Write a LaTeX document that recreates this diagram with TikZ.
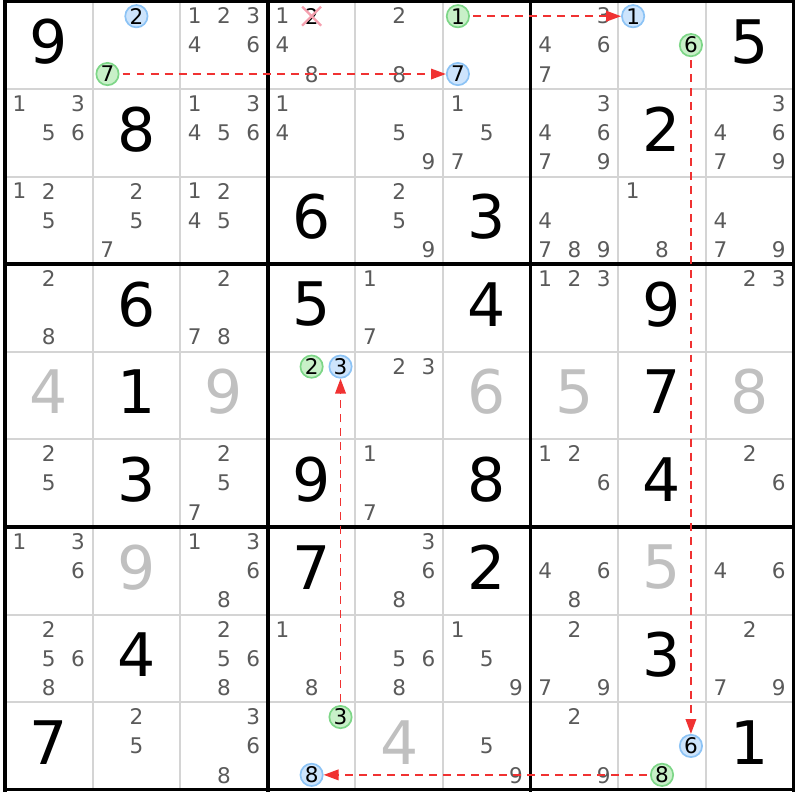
\documentclass[tikz,border=0pt]{standalone}
\usepackage{fontspec}
\setmainfont{DejaVu Sans}
\usetikzlibrary{arrows.meta,shapes.misc}
\definecolor{candgray}{RGB}{90,90,90}
\definecolor{solvedgray}{RGB}{192,192,192}
\definecolor{thingray}{RGB}{212,212,212}
\definecolor{onfill}{RGB}{200,240,200}
\definecolor{ondraw}{RGB}{125,214,135}
\definecolor{offfill}{RGB}{205,228,252}
\definecolor{offdraw}{RGB}{140,195,245}
\definecolor{linkred}{RGB}{240,50,50}
\definecolor{strikepink}{RGB}{245,160,175}
\tikzset{
    given/.style = {
        font      = \fontsize{19.5}{19.5}\selectfont,
        text      = black,
        inner sep = 0pt,
    },
    solved/.style = {
        given,
        text = solvedgray,
    },
    cand/.style = {
        font      = \fontsize{7}{7}\selectfont,
        text      = candgray,
        inner sep = 0pt,
    },
    oncand/.style = {
        cand,
        circle,
        text         = black,
        fill         = onfill,
        draw         = ondraw,
        line width   = 0.55pt,
        minimum size = 0.255cm,
    },
    offcand/.style = {
        oncand,
        fill = offfill,
        draw = offdraw,
    },
    struck/.style = {
        cand,
        cross out,
        text         = black,
        draw         = strikepink,
        line width   = 0.75pt,
        minimum size = 0.19cm,
    },
    link/.style = {
        draw        = linkred,
        line width  = 0.6pt,
        dash pattern = on 0.09cm off 0.07cm,
        -{Triangle[length=1.7mm,width=1.2mm]},
        shorten <= 1pt,
    },
}

\begin{document}
\begin{tikzpicture}
  \useasboundingbox (-0.057,0.015) rectangle (9.075,-9.117);

  % Grade
  \foreach \i in {1,...,8} {
    \draw[thingray,line width=0.65pt] (\i,0) -- (\i,-9);
    \draw[thingray,line width=0.65pt] (0,-\i) -- (9,-\i);
  }
  \foreach \i in {0,3,6,9} {
    \draw[black,line width=1.1pt] (\i,0.02) -- (\i,-9.02);
    \draw[black,line width=1.1pt] (-0.02,-\i) -- (9.02,-\i);
  }

  % Dados
  \foreach \r/\c/\d in {0/0/9, 0/8/5, 1/1/8, 1/7/2, 2/3/6, 2/5/3, 3/1/6, 3/3/5,
      3/5/4, 3/7/9, 4/1/1, 4/7/7, 5/1/3, 5/3/9, 5/5/8, 5/7/4, 6/3/7, 6/5/2,
      7/1/4, 7/7/3, 8/0/7, 8/8/1}
    \node[given] (G\r\c) at (\c+0.5,-\r-0.46) {\d};
  \foreach \r/\c/\d in {4/0/4, 4/2/9, 4/5/6, 4/6/5, 4/8/8, 6/1/9, 6/7/5, 8/4/4}
    \node[solved] (G\r\c) at (\c+0.5,-\r-0.46) {\d};

  % Candidatos
  \foreach \r/\c/\ds in {
      0/2/{1,2,3,4,6}, 0/3/{1,4,8}, 0/4/{2,8}, 0/6/{3,4,6,7},
      1/0/{1,3,5,6}, 1/2/{1,3,4,5,6}, 1/3/{1,4}, 1/4/{5,9}, 1/5/{1,5,7},
      1/6/{3,4,6,7,9}, 1/8/{3,4,6,7,9},
      2/0/{1,2,5}, 2/1/{2,5,7}, 2/2/{1,2,4,5}, 2/4/{2,5,9}, 2/6/{4,7,8,9},
      2/7/{1,8}, 2/8/{4,7,9},
      3/0/{2,8}, 3/2/{2,7,8}, 3/4/{1,7}, 3/6/{1,2,3}, 3/8/{2,3},
      4/4/{2,3},
      5/0/{2,5}, 5/2/{2,5,7}, 5/4/{1,7}, 5/6/{1,2,6}, 5/8/{2,6},
      6/0/{1,3,6}, 6/2/{1,3,6,8}, 6/4/{3,6,8}, 6/6/{4,6,8}, 6/8/{4,6},
      7/0/{2,5,6,8}, 7/2/{2,5,6,8}, 7/3/{1,8}, 7/4/{5,6,8}, 7/5/{1,5,9},
      7/6/{2,7,9}, 7/8/{2,7,9},
      8/1/{2,5}, 8/2/{3,6,8}, 8/5/{5,9}, 8/6/{2,9}} {
    \foreach \d in \ds {
      \pgfmathtruncatemacro\ci{mod(\d-1,3)}
      \pgfmathtruncatemacro\ri{div(\d-1,3)}
      \node[cand] (K\r\c\d) at ({\c+(2*\ci+1)/6},{-\r-(2*\ri+1)/6}) {\d};
    }
  }
  \node[struck] (Struck2) at (3.5,-0.17) {2};

  % Cadeia
  \node[offcand] (Off2) at (1.5,-0.17) {2};
  \node[oncand] (On7) at (1.17,-0.83) {7};
  \node[oncand] (On1) at (5.17,-0.17) {1};
  \node[offcand] (Off7) at (5.17,-0.83) {7};
  \node[offcand] (Off1) at (7.17,-0.17) {1};
  \node[oncand] (On6) at (7.83,-0.5) {6};
  \node[oncand] (On2) at (3.5,-4.17) {2};
  \node[offcand] (Off3) at (3.83,-4.17) {3};
  \node[oncand] (On3) at (3.83,-8.17) {3};
  \node[offcand] (Off8) at (3.5,-8.83) {8};
  \node[offcand] (Off6) at (7.83,-8.5) {6};
  \node[oncand] (On8) at (7.5,-8.83) {8};

  \draw[link] (On7) to (Off7);
  \draw[link] (On1) to (Off1);
  \draw[link] (On6) to (Off6);
  \draw[link] (On8) to (Off8);
  \draw[link] (On3) to (Off3);

\end{tikzpicture}
\end{document}
